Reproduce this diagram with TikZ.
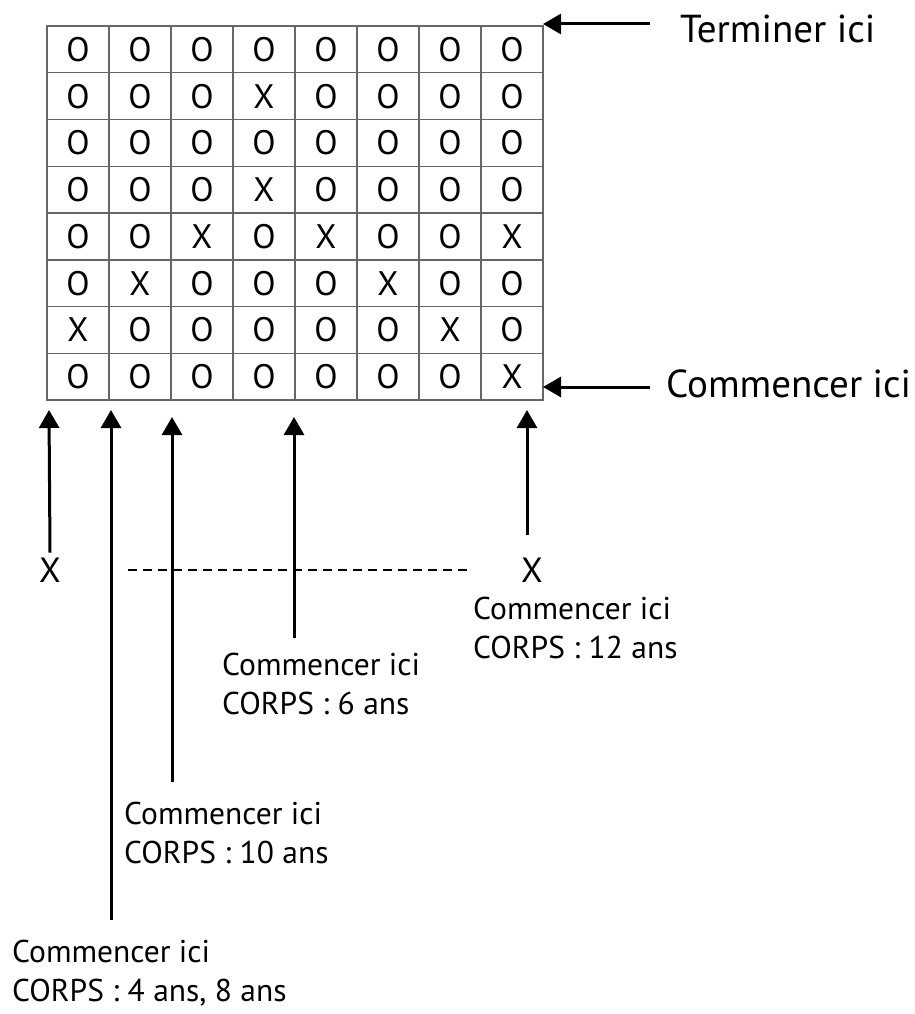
\documentclass[tikz,border=0pt]{standalone}
\usepackage{fontspec}
\setmainfont{PT Sans}
\usetikzlibrary{arrows.meta,positioning}

\begin{document}
\begin{tikzpicture}[x=1pt,y=-1pt,>={Triangle[length=18pt,width=20pt]},
  cell/.style={draw=black!60,line width=1.5pt,minimum width=62pt,minimum height=46.75pt,inner sep=0pt,font=\fontsize{34}{34}\selectfont},
  lab/.style={anchor=north west,inner sep=0pt,align=left,font=\fontsize{31.5}{39}\selectfont},
  big/.style={anchor=west,inner sep=0pt,font=\fontsize{39}{39}\selectfont},
  mark x/.style={inner sep=5pt,font=\fontsize{35}{35}\selectfont},
  pointer/.style={->,line width=3pt}]

\useasboundingbox (0,0) rectangle (914,1014);

% the grid, row by row from the top
\foreach \row [count=\r] in {{O,O,O,O,O,O,O,O},{O,O,O,X,O,O,O,O},{O,O,O,O,O,O,O,O},{O,O,O,X,O,O,O,O},
                             {O,O,X,O,X,O,O,X},{O,X,O,O,O,X,O,O},{X,O,O,O,O,O,X,O},{O,O,O,O,O,O,O,X}}
  \foreach \s [count=\c] in \row
    \node[cell] (c\r\c) at ({47+62*(\c-0.5)},{26+46.75*(\r-0.5)}) {\s};

% labels
\node[big] (term) at (680,29) {Terminer ici};
\node[big] (start) at (666,384) {Commencer ici};
\node[mark x] (x1) at (50,570) {X};
\node[mark x] (x5) at (532,570) {X};
\node[lab] (l12) at (473,597) {Commencer ici\\CORPS : 12 ans};
\node[lab] (l6)  at (222,653) {Commencer ici\\CORPS : 6 ans};
\node[lab] (l10) at (124,802) {Commencer ici\\CORPS : 10 ans};
\node[lab] (l4)  at (12,940)  {Commencer ici\\CORPS : 4 ans, 8 ans};

% arrow tips and tails
\coordinate (tT) at (543,24);
\coordinate (sT) at (650,24);
\coordinate (tS) at (543,387);
\coordinate (sS) at (650,387);
\coordinate (t1) at (49,410);
\coordinate (t2) at (111,410);
\coordinate (s2) at (111,920);
\coordinate (t3) at (172,417);
\coordinate (s3) at (172,782);
\coordinate (t4) at (294,417);
\coordinate (s4) at (294,638);
\coordinate (t5) at (527,410);
\coordinate (s5) at (527,535);

\draw[pointer] (sT) -- (tT);
\draw[pointer] (sS) -- (tS);
\draw[pointer] (x1.north) -- (t1);
\draw[pointer] (s2) -- (t2);
\draw[pointer] (s3) -- (t3);
\draw[pointer] (s4) -- (t4);
\draw[pointer] (s5) -- (t5);

% dashed line
\coordinate (d1) at (128,570);
\coordinate (d2) at (467,570);
\draw[line width=2pt,dash pattern=on 9pt off 6pt] (d1) -- (d2);

\end{tikzpicture}
\end{document}
